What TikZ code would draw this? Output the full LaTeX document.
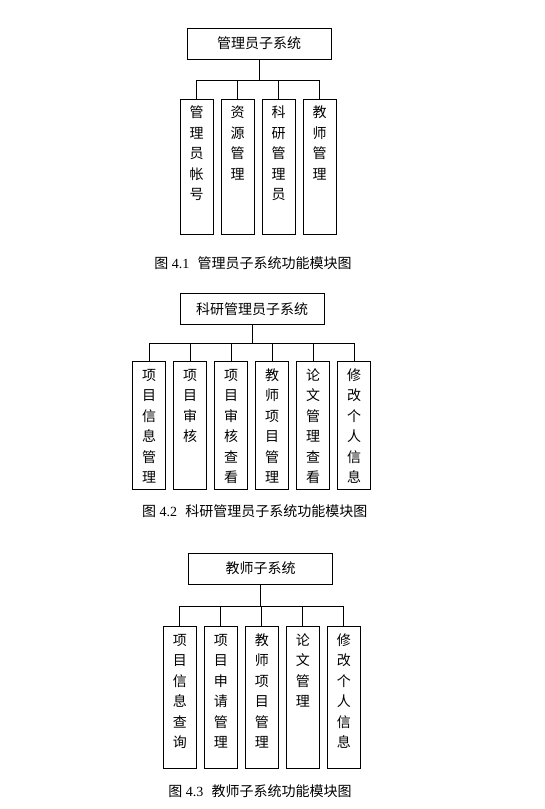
\documentclass[tikz,border=0pt]{standalone}
\usepackage{fontspec}
\setmainfont{Liberation Serif}
\newfontfamily\cjk{Noto Sans CJK SC}
\usetikzlibrary{positioning}

\tikzset{
  head/.style={draw, minimum width=144pt, minimum height=31pt, inner sep=0pt,
    font=\cjk\fontsize{14pt}{17pt}\selectfont},
  leaf/.style={draw, minimum width=33pt, text width=14pt, inner xsep=0pt,
    inner ysep=4pt, outer sep=0pt, align=center, text height=14.5pt, text depth=#1,
    font=\cjk\fontsize{14pt}{20.5pt}\selectfont},
  figcaption/.style={font=\fontsize{14pt}{17pt}\selectfont}
}

\begin{document}
\begin{tikzpicture}[x=1pt,y=-1pt,line width=0.9pt]
  \useasboundingbox (0,0) rectangle (544,809);

  % figure 4.1
  \node[head] (ta) at (259,43.5) {管理员子系统};
  \node[leaf=112.5pt,anchor=north west] (a1) at (180,99.3) {管\\理\\员\\帐\\号};
  \node[leaf=112.5pt,right=8pt of a1] (a2) {资\\源\\管\\理};
  \node[leaf=112.5pt,right=8pt of a2] (a3) {科\\研\\管\\理\\员};
  \node[leaf=112.5pt,right=8pt of a3] (a4) {教\\师\\管\\理};
  \draw (ta.south) -- ++(0,21) coordinate (ja);
  \foreach \n in {a1,a2,a3,a4} \draw (ja) -| (\n.north);
  \node[figcaption] (capa) at (253,263.3) {{\cjk 图} 4.1\hspace{0.6em}{\cjk 管理员子系统功能模块图}};

  % figure 4.2
  \node[head] (tb) at (252,309) {科研管理员子系统};
  \node[leaf=105pt,anchor=north west] (b1) at (132.7,361.7) {项\\目\\信\\息\\管\\理};
  \node[leaf=105pt,right=8pt of b1] (b2) {项\\目\\审\\核};
  \node[leaf=105pt,right=8pt of b2] (b3) {项\\目\\审\\核\\查\\看};
  \node[leaf=105pt,right=8pt of b3] (b4) {教\\师\\项\\目\\管\\理};
  \node[leaf=105pt,right=8pt of b4] (b5) {论\\文\\管\\理\\查\\看};
  \node[leaf=105pt,right=8pt of b5] (b6) {修\\改\\个\\人\\信\\息};
  \draw (tb.south) -- ++(0,18.4) coordinate (jb);
  \foreach \n in {b1,b2,b3,b4,b5,b6} \draw (jb) -| (\n.north);
  \node[figcaption] (capb) at (254.7,510.7) {{\cjk 图} 4.2\hspace{0.6em}{\cjk 科研管理员子系统功能模块图}};

  % figure 4.3
  \node[head] (tc) at (260.5,568.5) {教师子系统};
  \node[leaf=119pt,anchor=north west] (c1) at (163.3,626.7) {项\\目\\信\\息\\查\\询};
  \node[leaf=119pt,right=8pt of c1] (c2) {项\\目\\申\\请\\管\\理};
  \node[leaf=119pt,right=8pt of c2] (c3) {教\\师\\项\\目\\管\\理};
  \node[leaf=119pt,right=8pt of c3] (c4) {论\\文\\管\\理};
  \node[leaf=119pt,right=8pt of c4] (c5) {修\\改\\个\\人\\信\\息};
  \draw (tc.south) -- ++(0,22.4) coordinate (jc);
  \foreach \n in {c1,c2,c3,c4,c5} \draw (jc) -| (\n.north);
  \node[figcaption] (capc) at (260,791.3) {{\cjk 图} 4.3\hspace{0.6em}{\cjk 教师子系统功能模块图}};
\end{tikzpicture}
\end{document}
